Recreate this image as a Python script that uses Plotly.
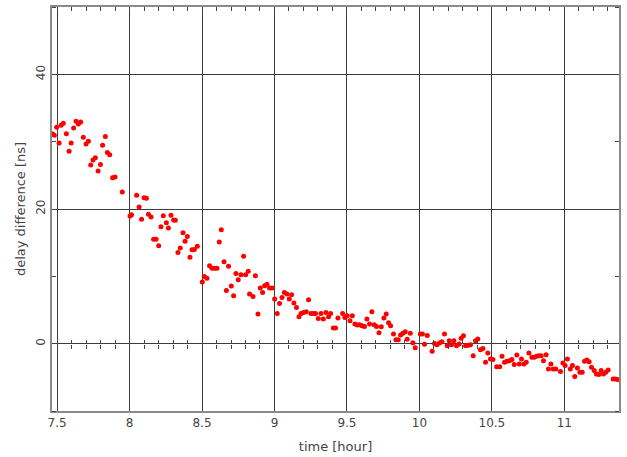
import plotly.graph_objects as go

time_hour = [
    7.465, 7.470, 7.481, 7.497, 7.514, 7.528, 7.543, 7.564, 7.583, 7.597,
    7.614, 7.631, 7.647, 7.663, 7.681, 7.700, 7.716, 7.732, 7.748, 7.764,
    7.783, 7.799, 7.814, 7.833, 7.847, 7.863, 7.883, 7.900, 7.950, 8.003,
    8.014, 8.049, 8.066, 8.083, 8.100, 8.116, 8.130, 8.148, 8.166, 8.183,
    8.201, 8.217, 8.233, 8.254, 8.268, 8.286, 8.304, 8.316, 8.334, 8.350,
    8.369, 8.383, 8.399, 8.417, 8.431, 8.447, 8.468, 8.502, 8.516, 8.534,
    8.552, 8.569, 8.585, 8.603, 8.619, 8.633, 8.652, 8.668, 8.683, 8.702,
    8.718, 8.734, 8.750, 8.769, 8.787, 8.801, 8.819, 8.828, 8.852, 8.868,
    8.886, 8.902, 8.918, 8.932, 8.948, 8.966, 8.983, 9.001, 9.019, 9.035,
    9.052, 9.068, 9.086, 9.102, 9.118, 9.134, 9.152, 9.169, 9.183, 9.201,
    9.219, 9.235, 9.252, 9.268, 9.283, 9.302, 9.321, 9.337, 9.355, 9.373,
    9.387, 9.406, 9.421, 9.438, 9.470, 9.486, 9.502, 9.521, 9.537, 9.555,
    9.571, 9.587, 9.603, 9.621, 9.638, 9.656, 9.672, 9.688, 9.704, 9.721,
    9.737, 9.755, 9.771, 9.787, 9.801, 9.821, 9.838, 9.854, 9.870, 9.886,
    9.902, 9.916, 9.937, 9.955, 9.971, 10.006, 10.021, 10.035, 10.054, 10.088,
    10.104, 10.121, 10.139, 10.155, 10.173, 10.192, 10.206, 10.221, 10.238, 10.256,
    10.274, 10.288, 10.304, 10.318, 10.337, 10.352, 10.371, 10.387, 10.403, 10.421,
    10.438, 10.456, 10.472, 10.490, 10.507, 10.533, 10.554, 10.570, 10.587, 10.604,
    10.621, 10.638, 10.654, 10.672, 10.689, 10.704, 10.721, 10.737, 10.755, 10.776,
    10.792, 10.808, 10.824, 10.840, 10.856, 10.874, 10.890, 10.907, 10.923, 10.941,
    10.973, 10.990, 11.005, 11.021, 11.041, 11.056, 11.072, 11.090, 11.107, 11.123,
    11.139, 11.155, 11.171, 11.187, 11.206, 11.221, 11.238, 11.254, 11.270, 11.286,
    11.302, 11.337, 11.353, 11.369,
]

delay_ns = [
    31.16, 31.07, 30.96, 32.15, 29.82, 32.44, 32.74, 31.16, 28.59, 29.82,
    32.04, 33.04, 32.64, 32.93, 30.67, 29.67, 30.07, 26.52, 27.26, 27.60,
    25.63, 26.62, 29.48, 30.77, 28.40, 28.04, 24.64, 24.74, 22.52, 18.96,
    19.16, 22.03, 20.30, 18.47, 21.67, 21.59, 19.21, 18.81, 15.51, 15.51,
    14.56, 17.38, 19.01, 17.97, 17.19, 19.07, 18.37, 18.33, 13.53, 14.22,
    16.49, 15.21, 15.90, 12.84, 13.93, 13.97, 14.47, 9.14, 9.97, 9.73,
    11.56, 11.21, 11.21, 11.21, 15.11, 16.93, 12.15, 7.90, 11.51, 8.55,
    7.11, 10.41, 9.48, 10.22, 12.99, 10.22, 10.77, 7.36, 7.01, 10.07,
    4.40, 8.25, 7.60, 8.59, 8.84, 8.25, 8.25, 6.62, 4.49, 5.97,
    6.86, 7.60, 7.36, 6.62, 7.26, 6.03, 5.38, 4.00, 4.49, 4.64,
    4.74, 6.52, 4.49, 4.49, 4.49, 3.75, 4.49, 3.66, 4.64, 4.00,
    4.49, 2.33, 2.33, 3.81, 4.49, 3.90, 4.15, 3.41, 4.15, 2.92,
    2.77, 2.81, 2.67, 2.56, 3.66, 2.92, 4.74, 2.81, 2.56, 1.63,
    2.52, 3.81, 4.40, 3.11, 2.67, 1.44, 0.59, 0.59, 1.29, 1.53,
    1.78, 0.64, 1.53, 0.15, -0.59, 1.44, 1.44, -0.10, 1.23, -1.14,
    0.04, -0.15, 0.10, 0.30, 1.44, -0.30, 0.44, -0.15, 0.44, -0.30,
    -0.04, 0.79, 1.19, -0.30, -0.25, -0.15, -1.78, 0.44, 0.70, -0.89,
    -0.70, -2.77, -1.38, -2.27, -2.37, -3.41, -3.41, -1.88, -2.77, -2.62,
    -2.52, -2.37, -3.11, -1.67, -3.01, -2.27, -3.01, -2.77, -1.38, -2.03,
    -2.03, -1.88, -1.78, -1.78, -2.52, -1.63, -3.75, -3.01, -3.75, -3.75,
    -4.15, -2.86, -3.26, -2.27, -3.75, -3.26, -4.89, -3.60, -4.25, -4.25,
    -2.62, -2.41, -2.67, -3.51, -4.00, -4.49, -4.59, -4.00, -4.49, -4.25,
    -3.90, -5.23, -5.23, -5.33,
]

x_range = [7.465, 11.377]
y_range = [-10, 50]

FONT = "DejaVu Sans"
TXT = "#444444"
GRID = "#3c3c3c"
FRAME = "#8a8a8a"

fig = go.Figure()
fig.add_trace(go.Scatter(
    x=time_hour, y=delay_ns, mode="markers",
    marker=dict(color="#ff0000", size=5, line=dict(width=0)),
    showlegend=False, hoverinfo="skip",
))
# helper empty traces so the extra tick-only axes are rendered
for ax in ["x2", "x3", "x4"]:
    fig.add_trace(go.Scatter(x=[None], y=[None], xaxis=ax, yaxis="y",
                             showlegend=False, hoverinfo="skip"))

zero_pos = (0 - y_range[0]) / (y_range[1] - y_range[0])

fig.update_layout(
    width=627, height=457,
    margin=dict(l=52, r=8, t=5, b=46),
    paper_bgcolor="white", plot_bgcolor="white",
    font=dict(family=FONT, size=12, color=TXT),
    xaxis=dict(
        range=x_range, tick0=7.5, dtick=0.5, ticks="",
        showgrid=True, gridcolor=GRID, gridwidth=1.3,
        zeroline=False, showline=True, linecolor=FRAME, linewidth=1.5,
        mirror=True, tickfont=dict(family=FONT, size=12, color=TXT),
        title=dict(text="time [hour]", font=dict(family=FONT, size=13, color=TXT),
                   standoff=13),
    ),
    xaxis2=dict(
        overlaying="x", matches="x", side="top", anchor="y",
        tick0=7.5, dtick=0.1, ticks="inside", ticklen=4, tickwidth=1,
        tickcolor="#444", showticklabels=False, showgrid=False,
        zeroline=False, showline=False,
    ),
    xaxis3=dict(
        overlaying="x", matches="x", anchor="free", position=zero_pos,
        tick0=7.5, dtick=0.1, ticks="outside", ticklen=4, tickwidth=1,
        tickcolor="#444", showticklabels=False, showgrid=False,
        zeroline=False, showline=False,
    ),
    xaxis4=dict(
        overlaying="x", matches="x", anchor="free", position=zero_pos,
        tick0=7.5, dtick=0.1, ticks="inside", ticklen=4, tickwidth=1,
        tickcolor="#444", showticklabels=False, showgrid=False,
        zeroline=False, showline=False,
    ),
    yaxis=dict(
        range=y_range, tick0=0, dtick=20, ticks="", tickangle=-90,
        showgrid=True, gridcolor=GRID, gridwidth=1.3,
        zeroline=False, showline=True, linecolor=FRAME, linewidth=1.5,
        mirror="ticks",
        minor=dict(dtick=10, tick0=0, ticks="inside", ticklen=4,
                   tickcolor="#444", showgrid=False),
        tickfont=dict(family=FONT, size=12, color=TXT),
        title=dict(text="delay difference [ns]",
                   font=dict(family=FONT, size=13, color=TXT), standoff=6),
    ),
)

fig.write_html(
    "out.html",
    config={"displayModeBar": False},
    post_script="document.body.style.margin='0';document.body.style.padding='0';",
)
